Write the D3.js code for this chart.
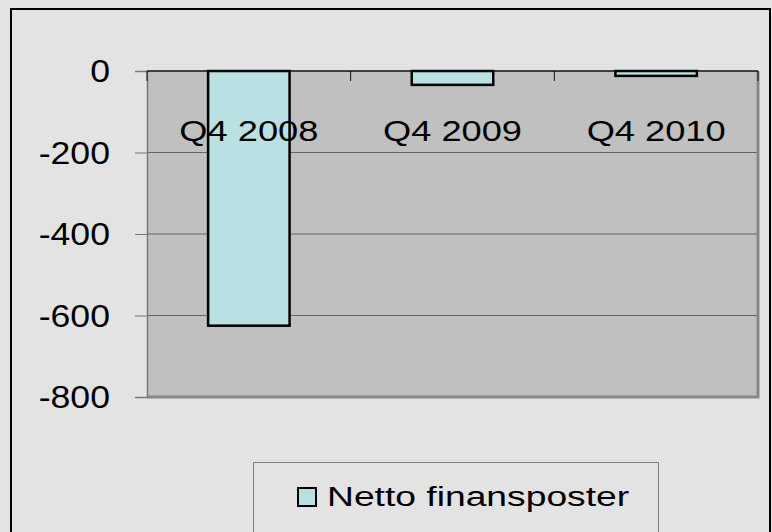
<!DOCTYPE html>
<html><head><meta charset="utf-8">
<script src="https://cdn.jsdelivr.net/npm/d3@7"></script>
<style>html,body{margin:0;padding:0;background:#e3e3e3;}svg{display:block;}</style>
</head><body>
<script>
const categories = ["Q4 2008", "Q4 2009", "Q4 2010"];
const values = [-625, -34, -12];
const yTicks = [0, -200, -400, -600, -800];
const seriesName = "Netto finansposter";

(function () {
const W = 772, H = 532;
const svg = d3.select("body").append("svg").attr("width", W).attr("height", H);
svg.append("rect").attr("width", W).attr("height", H).attr("fill", "#e3e3e3");
svg.append("rect").attr("x", 11).attr("y", 9).attr("width", 759).attr("height", 540)
  .attr("fill", "none").attr("stroke", "#000").attr("stroke-width", 2);

const pL = 147, pR = 758, pT = 71, pB = 397;
const x = d3.scaleBand().domain(categories).range([pL, pR]).padding(0);
const y = d3.scaleLinear().domain([-800, 0]).range([pB, pT]);

svg.append("rect").attr("x", pL).attr("y", pT).attr("width", pR - pL).attr("height", pB - pT)
  .attr("fill", "#c0c0c0");

svg.selectAll(".grid").data(yTicks.filter(d => d !== 0 && d !== -800)).enter().append("line")
  .attr("x1", pL).attr("x2", pR).attr("y1", d => y(d)).attr("y2", d => y(d))
  .attr("stroke", "#666").attr("stroke-width", 1);

svg.append("path").attr("d", `M${pR},${pT}V${pB}H${pL}`)
  .attr("fill", "none").attr("stroke", "#888").attr("stroke-width", 3);

const yAxis = svg.append("g").attr("transform", `translate(${pL},0)`)
  .call(d3.axisLeft(y).tickValues(yTicks).tickSize(12).tickFormat(""));
yAxis.select(".domain").attr("stroke", "#777").attr("stroke-width", 1.5);
yAxis.selectAll(".tick line").attr("stroke", "#777");

const bw = x.bandwidth() * 0.4;
svg.selectAll(".bar").data(values).enter().append("rect")
  .attr("x", (d, i) => x(categories[i]) + (x.bandwidth() - bw) / 2)
  .attr("y", d => y(Math.max(0, d)))
  .attr("width", bw)
  .attr("height", d => Math.abs(y(d) - y(0)))
  .attr("fill", "#b9e0e3").attr("stroke", "#000").attr("stroke-width", 2.5);

const xAxis = svg.append("g").attr("transform", `translate(0,${y(0)})`);
xAxis.append("line").attr("x1", pL).attr("x2", pR).attr("stroke", "#111").attr("stroke-width", 1.5);
xAxis.selectAll(".xt").data(d3.range(categories.length + 1)).enter().append("line")
  .attr("x1", i => pL + i * x.step()).attr("x2", i => pL + i * x.step())
  .attr("y1", 0).attr("y2", 10).attr("stroke", "#111");

const font = "'Liberation Sans', Arial, sans-serif";
svg.selectAll(".ylab").data(yTicks).enter().append("text")
  .attr("transform", d => `translate(110,${y(d) + 11}) scale(1.15,1)`)
  .attr("text-anchor", "end").attr("font-family", font).attr("font-size", 31).attr("fill", "#000")
  .text(d => d);

svg.selectAll(".xlab").data(categories).enter().append("text")
  .attr("transform", d => `translate(${x(d) + x.bandwidth() / 2},141) scale(1.25,1)`)
  .attr("text-anchor", "middle").attr("font-family", font).attr("font-size", 29).attr("fill", "#000")
  .text(d => d);

svg.append("rect").attr("x", 253.5).attr("y", 462.5).attr("width", 405).attr("height", 90)
  .attr("fill", "none").attr("stroke", "#808080").attr("stroke-width", 1);
svg.append("rect").attr("x", 298).attr("y", 488).attr("width", 18).attr("height", 18)
  .attr("fill", "#b9e0e3").attr("stroke", "#000").attr("stroke-width", 2);
svg.append("text").attr("transform", "translate(327,506) scale(1.33,1)")
  .attr("font-family", font).attr("font-size", 28).attr("fill", "#000").text(seriesName);
})();
</script>
</body></html>
